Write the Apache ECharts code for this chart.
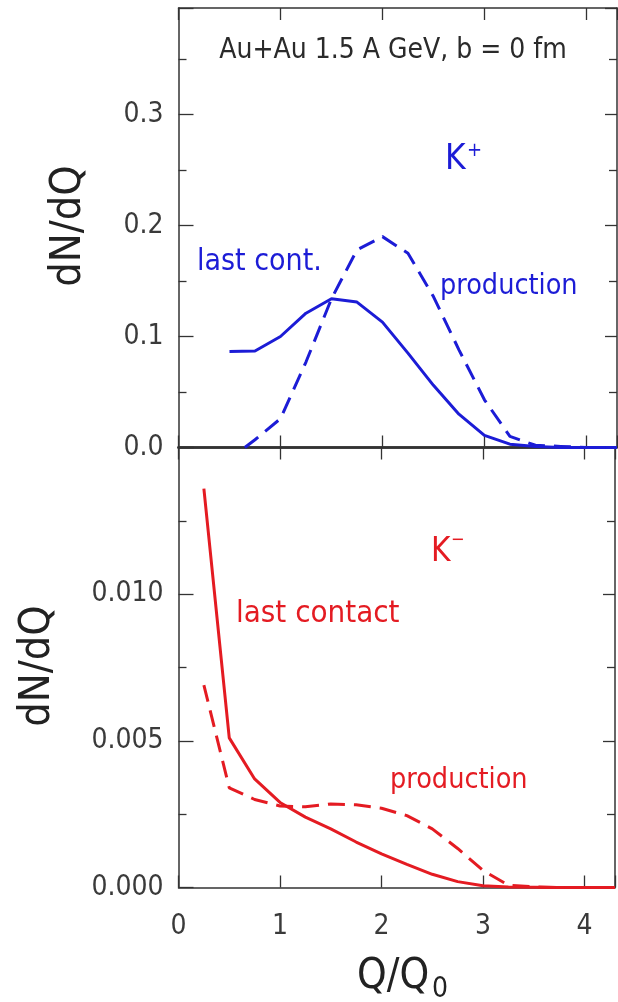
<!DOCTYPE html>
<html>
<head>
<meta charset="utf-8">
<script src="https://cdn.jsdelivr.net/npm/echarts@6/dist/echarts.min.js"></script>
<style>
  html, body { margin: 0; padding: 0; background: #fff; }
  #chart { width: 618px; height: 1002px; }
</style>
</head>
<body>
<div id="chart"></div>
<script>
// Kaon emission distributions, Au+Au 1.5 A GeV, b = 0 fm
// K+ (upper panel)
const qKPlusLast = [0.5, 0.75, 1.0, 1.25, 1.5, 1.75, 2.0, 2.25, 2.5, 2.75, 3.0, 3.25, 3.5, 3.75, 4.0, 4.3];
const kPlusLast  = [0.0865, 0.087, 0.100, 0.121, 0.134, 0.131, 0.113, 0.085, 0.056, 0.030, 0.011, 0.003, 0.001, 0.0, 0.0, 0.0];
const qKPlusProd = [0.65, 0.75, 1.0, 1.25, 1.5, 1.75, 2.0, 2.25, 2.5, 2.75, 3.0, 3.25, 3.5, 3.75, 4.0, 4.3];
const kPlusProd  = [0.0, 0.007, 0.026, 0.077, 0.134, 0.178, 0.190, 0.175, 0.136, 0.088, 0.043, 0.010, 0.002, 0.001, 0.0, 0.0];

// K- (lower panel)
const qKMinus    = [0.25, 0.5, 0.75, 1.0, 1.25, 1.5, 1.75, 2.0, 2.25, 2.5, 2.75, 3.0, 3.25, 3.5, 3.75, 4.0, 4.3];
const kMinusLast = [0.0136, 0.0051, 0.0037, 0.0029, 0.0024, 0.0020, 0.00155, 0.00115, 0.00079, 0.00045, 0.0002, 0.00006, 0.00002, 0.00001, 0, 0, 0];
const kMinusProd = [0.0069, 0.0034, 0.0030, 0.00278, 0.00275, 0.00285, 0.00282, 0.0027, 0.00245, 0.0020, 0.00133, 0.00058, 0.00008, 0.00002, 0, 0, 0];

// Axis ranges and ticks
const xRange = [0, 4.3];
const xTickStep = 1;
const yTopRange = [0, 0.396];
const yTopStep = 0.1;
const yBottomRange = [0, 0.015];
const yBottomStep = 0.005;

const FONT = '"DejaVu Sans Condensed", "DejaVu Sans", sans-serif';
const AXIS_COLOR = '#333';
const BLUE = '#1c1cd6';
const RED = '#e41b22';

const pairs = (xs, ys) => xs.map((x, i) => [x, ys[i]]);
const isMultiple = (v, step) => Math.abs(v / step - Math.round(v / step)) < 1e-6;

function xAxisDef(gridIndex, position, withLabels, lineWidth) {
  return {
    type: 'value', gridIndex, position,
    min: xRange[0], max: xRange[1], interval: xTickStep,
    axisLine: { show: true, onZero: false, lineStyle: { color: AXIS_COLOR, width: lineWidth } },
    axisTick: { show: true, inside: true, length: 12, lineStyle: { color: AXIS_COLOR, width: 1.3 } },
    axisLabel: {
      show: withLabels, margin: 25, color: '#3a3a3a', fontSize: 28, fontFamily: FONT,
      formatter: v => isMultiple(v, xTickStep) ? String(Math.round(v)) : ''
    },
    splitLine: { show: false }
  };
}

function yAxisDef(gridIndex, position, range, step, digits, withLabels) {
  return {
    type: 'value', gridIndex, position,
    min: range[0], max: range[1], interval: step,
    axisLine: { show: true, onZero: false, lineStyle: { color: AXIS_COLOR, width: 1.5 } },
    axisTick: { show: true, inside: true, length: withLabels ? 15 : 12, lineStyle: { color: AXIS_COLOR, width: 1.3 } },
    minorTick: { show: true, splitNumber: 2, length: 8, lineStyle: { color: AXIS_COLOR, width: 1.3 } },
    axisLabel: {
      show: withLabels, margin: 15, color: '#3a3a3a', fontSize: 28, fontFamily: FONT,
      showMaxLabel: false,
      formatter: v => isMultiple(v, step) ? v.toFixed(digits) : ''
    },
    splitLine: { show: false }
  };
}

function label(text, x, y, size, fill, extra) {
  return Object.assign({
    type: 'text', x, y, z: 100,
    style: {
      text, fill, fontSize: size, fontFamily: FONT,
      align: 'left', verticalAlign: 'middle',
      textAlign: 'left', textVerticalAlign: 'middle'
    }
  }, extra || {});
}

function centered(el) {
  el.style.align = 'center';
  el.style.textAlign = 'center';
  return el;
}

const chart = echarts.init(document.getElementById('chart'), null, { renderer: 'canvas' });

chart.setOption({
  animation: false,
  backgroundColor: '#fff',
  grid: [
    { left: 178.5, right: 1, top: 8, height: 439.5 },
    { left: 178.5, right: 1, top: 447.5, height: 440 }
  ],
  xAxis: [
    xAxisDef(0, 'bottom', false, 2.5),
    xAxisDef(0, 'top', false, 1.5),
    xAxisDef(1, 'bottom', true, 1.5),
    xAxisDef(1, 'top', false, 2.5)
  ],
  yAxis: [
    yAxisDef(0, 'left', yTopRange, yTopStep, 1, true),
    yAxisDef(0, 'right', yTopRange, yTopStep, 1, false),
    yAxisDef(1, 'left', yBottomRange, yBottomStep, 3, true),
    yAxisDef(1, 'right', yBottomRange, yBottomStep, 3, false)
  ],
  series: [
    {
      name: 'K+ last contact', type: 'line', xAxisIndex: 0, yAxisIndex: 0,
      data: pairs(qKPlusLast, kPlusLast), showSymbol: false, clip: true,
      lineStyle: { color: BLUE, width: 3 }
    },
    {
      name: 'K+ production', type: 'line', xAxisIndex: 0, yAxisIndex: 0,
      data: pairs(qKPlusProd, kPlusProd), showSymbol: false, clip: true,
      lineStyle: { color: BLUE, width: 3, type: [17, 9] }
    },
    {
      name: 'K- last contact', type: 'line', xAxisIndex: 2, yAxisIndex: 2,
      data: pairs(qKMinus, kMinusLast), showSymbol: false, clip: true,
      lineStyle: { color: RED, width: 3 }
    },
    {
      name: 'K- production', type: 'line', xAxisIndex: 2, yAxisIndex: 2,
      data: pairs(qKMinus, kMinusProd), showSymbol: false, clip: true,
      lineStyle: { color: RED, width: 3, type: [17, 9] }
    }
  ],
  graphic: [
    centered(label('Au+Au 1.5 A GeV, b = 0 fm', 393, 51, 28, '#2a2a2a')),
    label('K', 445, 160, 35, BLUE),
    label('+', 467, 151, 20, BLUE),
    label('last cont.', 197, 262, 30, BLUE),
    label('production', 440, 287, 28.5, BLUE),
    label('K', 431, 552, 33, RED),
    label('\u2212', 451, 540, 18, RED),
    label('last contact', 236, 614, 31, RED),
    label('production', 390, 781, 28.5, RED),
    centered(label('dN/dQ', 69, 226, 43, '#222', { rotation: Math.PI / 2 })),
    centered(label('dN/dQ', 38, 666, 43, '#222', { rotation: Math.PI / 2 })),
    label('Q/Q', 357, 977, 42, '#222'),
    label('0', 432, 990, 28, '#222')
  ]
});
</script>
</body>
</html>
